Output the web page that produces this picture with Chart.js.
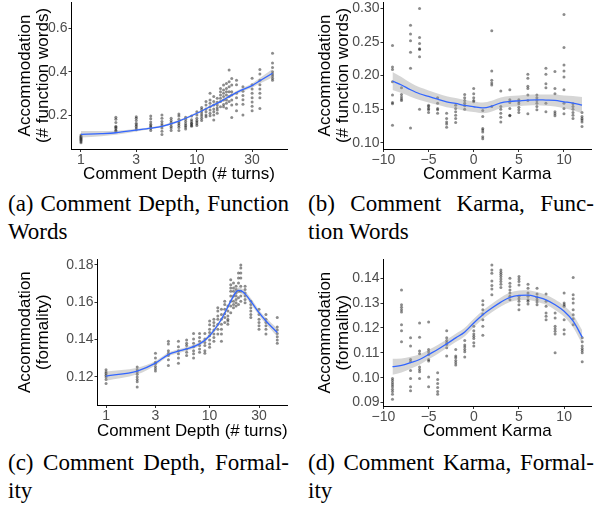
<!DOCTYPE html>
<html><head><meta charset="utf-8">
<script src="https://cdn.jsdelivr.net/npm/chart.js@4/dist/chart.umd.min.js"></script>
<style>
html,body{margin:0;padding:0;background:#fff;}
body{width:606px;height:510px;position:relative;overflow:hidden;}
.panel{position:absolute;}
.cap{position:absolute;font-family:"Liberation Serif","Times New Roman",serif;font-size:23px;line-height:28px;color:#000;}
.cap .l1{text-align:justify;text-align-last:justify;}
</style>
</head><body>
<canvas id="ca" class="panel" width="300" height="185" style="left:0;top:0;width:300px;height:185px"></canvas>
<canvas id="cb" class="panel" width="306" height="185" style="left:300px;top:0;width:306px;height:185px"></canvas>
<canvas id="cc" class="panel" width="300" height="192" style="left:0;top:250px;width:300px;height:192px"></canvas>
<canvas id="cd" class="panel" width="306" height="192" style="left:300px;top:250px;width:306px;height:192px"></canvas>
<div class="cap" style="left:8px;top:190px;width:281px"><div class="l1">(a) Comment Depth, Function</div><div>Words</div></div>
<div class="cap" style="left:308px;top:190px;width:286px"><div class="l1">(b) Comment Karma, Func-</div><div>tion Words</div></div>
<div class="cap" style="left:8px;top:449px;width:281px"><div class="l1">(c) Comment Depth, Formal-</div><div>ity</div></div>
<div class="cap" style="left:308px;top:449px;width:286px"><div class="l1">(d) Comment Karma, Formal-</div><div>ity</div></div>
<script>
// ---------- categories ----------
const depthX = [1,2,3,4,5,6,7,8,9,10,11,12,13,14,15,16,17,18,19,20,22,25,30,35,45];
const karmaX = [-9,-8,-7,-6,-5,-4,-3,-2,-1,0,1,2,3,4,5,6,7,8,9,10,11,12];

// ---------- tick labels ----------
const depthTicks = [1,3,10,30];
const depthTickLabels = ['1','3','10','30'];
const karmaTicks = [-10,-5,0,5,10];
const karmaTickLabels = ['\u221210','\u22125','0','5','10'];
const yTicksA = [0.2,0.4,0.6];
const yLabelsA = ['0.2','0.4','0.6'];
const yTicksB = [0.10,0.15,0.20,0.25,0.30];
const yLabelsB = ['0.10','0.15','0.20','0.25','0.30'];
const yTicksC = [0.12,0.14,0.16,0.18];
const yLabelsC = ['0.12','0.14','0.16','0.18'];
const yTicksD = [0.09,0.10,0.11,0.12,0.13,0.14];
const yLabelsD = ['0.09','0.10','0.11','0.12','0.13','0.14'];

// ---------- (a) function words by depth: points per depth ----------
const funcByDepth = [
  [0.108,0.102,0.097,0.093,0.088,0.083,0.078,0.072],
  [0.19,0.18,0.165,0.148,0.143,0.138,0.13,0.125],
  [0.192,0.185,0.175,0.162,0.155,0.148,0.14,0.132],
  [0.195,0.183,0.168,0.157,0.15,0.145,0.138,0.128],
  [0.2,0.185,0.17,0.158,0.15,0.14,0.125,0.11],
  [0.185,0.175,0.165,0.158,0.148,0.14,0.128],
  [0.205,0.195,0.18,0.168,0.16,0.152,0.142,0.128],
  [0.19,0.18,0.17,0.16,0.152,0.145,0.135],
  [0.195,0.178,0.17,0.162,0.158,0.152,0.148],
  [0.215,0.2,0.185,0.175,0.168,0.16,0.152],
  [0.235,0.225,0.215,0.205,0.195,0.185,0.175],
  [0.262,0.246,0.228,0.215,0.2,0.192],
  [0.3,0.269,0.254,0.238,0.223,0.208,0.197],
  [0.285,0.262,0.246,0.228,0.215,0.2,0.177],
  [0.277,0.259,0.246,0.234,0.223,0.208],
  [0.323,0.308,0.292,0.277,0.262,0.238],
  [0.339,0.315,0.3,0.285,0.269,0.249,0.238],
  [0.346,0.323,0.308,0.292,0.269,0.254,0.231],
  [0.408,0.354,0.331,0.308,0.285,0.262],
  [0.369,0.339,0.308,0.292,0.269,0.246,0.188],
  [0.36,0.34,0.3,0.28,0.25,0.22],
  [0.33,0.31,0.29,0.27,0.25,0.2],
  [0.37,0.34,0.32,0.3,0.28,0.26,0.24,0.22],
  [0.41,0.39,0.36,0.34,0.32,0.3,0.28,0.23],
  [0.485,0.44,0.42,0.4,0.39,0.38,0.37,0.36]
];
const fitAX  = [1,1.5,2,3,4,5,7,10,13,16,20,25,30,35,45];
const fitAY  = [0.111,0.114,0.118,0.130,0.139,0.148,0.172,0.208,0.238,0.262,0.292,0.318,0.336,0.358,0.393];
const fitALo = [0.096,0.102,0.109,0.124,0.134,0.143,0.167,0.203,0.233,0.256,0.285,0.310,0.326,0.345,0.373];
const fitAHi = [0.126,0.126,0.127,0.136,0.144,0.153,0.177,0.213,0.243,0.268,0.299,0.326,0.346,0.371,0.413];

// ---------- (b) function words by karma ----------
const funcByKarma = [
  [0.245,0.213,0.209,0.191,0.171,0.16,0.158,0.126],
  [0.182,0.172,0.168,0.165,0.163],
  [0.275,0.262,0.252,0.235,0.211,0.122],
  [0.3,0.257,0.248,0.24,0.239,0.228,0.15],
  [0.156,0.154,0.151,0.149,0.145],
  [0.167,0.159,0.151,0.149,0.144],
  [0.144,0.136,0.131,0.128,0.123],
  [0.156,0.151,0.146,0.141,0.136,0.13],
  [0.172,0.167,0.163,0.159,0.155,0.15],
  [0.181,0.173,0.167,0.163,0.161],
  [0.148,0.139,0.121,0.119,0.116,0.109,0.106],
  [0.267,0.207,0.193,0.189,0.186,0.154],
  [0.177,0.154,0.15,0.144,0.138,0.131],
  [0.179,0.164,0.16,0.151,0.141,0.14],
  [0.164,0.161,0.158,0.153,0.149,0.145],
  [0.202,0.196,0.184,0.181,0.171,0.163,0.143],
  [0.171,0.167,0.163,0.159,0.154,0.149],
  [0.211,0.202,0.188,0.182,0.159,0.146],
  [0.206,0.181,0.173,0.146,0.143,0.14],
  [0.291,0.242,0.216,0.207,0.198,0.179,0.159,0.151,0.143],
  [0.158,0.154,0.15,0.145,0.141,0.136],
  [0.145,0.139,0.136,0.134,0.131,0.124]
];
const fitBY  = [0.192,0.186,0.179,0.173,0.169,0.165,0.161,0.1585,0.1556,0.1536,0.152,0.1546,0.1595,0.1615,0.1625,0.1635,0.164,0.1635,0.163,0.161,0.159,0.156];
const fitBLo = [0.1784,0.174,0.1685,0.1635,0.160,0.1565,0.1528,0.1505,0.1476,0.1456,0.144,0.1466,0.1515,0.1535,0.1545,0.1555,0.156,0.155,0.154,0.1515,0.1485,0.144];
const fitBHi = [0.2056,0.198,0.1895,0.1825,0.178,0.1735,0.1692,0.1665,0.1636,0.1616,0.160,0.1626,0.1675,0.1695,0.1705,0.1715,0.172,0.172,0.172,0.1705,0.1695,0.168];

// ---------- (c) formality by depth ----------
const formByDepth = [
  [0.1239,0.1226,0.1218,0.1209,0.12,0.1186,0.1165],
  [0.1253,0.1239,0.1226,0.1214,0.12,0.1186,0.1174,0.1147],
  [0.1327,0.1302,0.1279,0.1271,0.1256,0.1244,0.1232],
  [0.1391,0.1377,0.1341,0.1327,0.1315,0.1292,0.1262],
  [0.1391,0.1362,0.1341,0.1324,0.1302,0.1274],
  [0.1398,0.138,0.1368,0.135,0.1332,0.1315],
  [0.1433,0.1403,0.138,0.1362,0.1341,0.1324,0.1302],
  [0.1433,0.1412,0.1391,0.1368,0.135,0.1332],
  [0.1433,0.1403,0.1385,0.1368,0.1341,0.1327],
  [0.15,0.1479,0.1456,0.1438,0.1421,0.1398,0.1377,0.1359],
  [0.1509,0.1491,0.1474,0.1451,0.143,0.1412,0.1391],
  [0.1571,0.1553,0.1527,0.1509,0.1482,0.1456,0.143],
  [0.1562,0.1535,0.1509,0.1482,0.1456,0.143,0.1391],
  [0.1606,0.1588,0.1562,0.1539,0.1518,0.1491],
  [0.158,0.1553,0.1527,0.1509,0.15,0.1482],
  [0.1721,0.1694,0.1677,0.1659,0.1633,0.1606,0.158,0.1544],
  [0.1703,0.1677,0.1659,0.1633,0.1606,0.1588,0.1571],
  [0.1686,0.1668,0.165,0.1633,0.1615,0.1597,0.158],
  [0.1756,0.173,0.1703,0.1659,0.1624,0.1588],
  [0.18,0.1783,0.1756,0.173,0.1686,0.1659,0.1633,0.1606],
  [0.1686,0.1668,0.165,0.1633,0.1615,0.1597],
  [0.1606,0.1588,0.1571,0.1553,0.1535,0.1518],
  [0.1562,0.1535,0.1509,0.1491,0.1474,0.1456],
  [0.1535,0.1509,0.1491,0.1474,0.1456,0.143],
  [0.1518,0.1468,0.1451,0.1433,0.1415,0.1398,0.138]
];
const fitCX  = [1,2,3,4,5,6,8,10,13,16,18,19,20,22,25,30,35,45];
const fitCY  = [0.1205,0.1232,0.1274,0.132,0.1338,0.135,0.1377,0.1421,0.1509,0.1606,0.1655,0.1664,0.1662,0.1645,0.1606,0.1544,0.150,0.1438];
const fitCLo = [0.118,0.1214,0.1262,0.131,0.1328,0.134,0.1367,0.1411,0.1498,0.1593,0.164,0.1649,0.1647,0.163,0.1591,0.1529,0.1483,0.1416];
const fitCHi = [0.123,0.125,0.1286,0.133,0.1348,0.136,0.1387,0.1431,0.152,0.1619,0.167,0.1679,0.1677,0.166,0.1621,0.1559,0.1517,0.146];

// ---------- (d) formality by karma ----------
const formByKarma = [
  [0.0997,0.0989,0.098,0.0971,0.0963,0.0953,0.0944,0.0933,0.0913],
  [0.1353,0.1293,0.1283,0.1273,0.1264,0.1213,0.1189,0.1144],
  [0.116,0.1127,0.1073,0.1064,0.1029,0.0997,0.0963,0.0947],
  [0.122,0.1163,0.1107,0.1096,0.1043,0.1033,0.1024,0.0997],
  [0.1224,0.1113,0.1104,0.1093,0.1073,0.1067,0.1003,0.0963],
  [0.102,0.0993,0.0976,0.096,0.0944,0.0933],
  [0.1189,0.116,0.1149,0.114,0.1133,0.112,0.1087],
  [0.1113,0.1087,0.108,0.1069,0.106,0.1051],
  [0.1149,0.1131,0.1123,0.1113,0.1104,0.1083],
  [0.1207,0.1189,0.1176,0.1167,0.1157,0.114,0.1127],
  [0.1309,0.1293,0.1273,0.1256,0.1233,0.1207,0.1171],
  [0.1453,0.1433,0.142,0.1389,0.1371,0.1357,0.1333],
  [0.1433,0.1424,0.1416,0.1407,0.1397,0.1387,0.1376,0.1363],
  [0.14,0.138,0.1367,0.1353,0.134,0.1327,0.1313],
  [0.1407,0.1397,0.1387,0.1373,0.1327,0.1317,0.1307,0.1293,0.1273],
  [0.1376,0.136,0.134,0.1327,0.1313,0.1307,0.1296],
  [0.136,0.1336,0.1323,0.1313,0.1304,0.1293],
  [0.1336,0.1307,0.1287,0.126,0.1247,0.1233],
  [0.126,0.124,0.1207,0.1197,0.1187,0.1176,0.11],
  [0.134,0.13,0.1293,0.1287,0.1233,0.1193,0.1176],
  [0.1403,0.1333,0.1317,0.13,0.1273,0.1253,0.1237,0.1213],
  [0.116,0.1144,0.1127,0.1117,0.1109,0.11,0.1064]
];
const fitDY  = [0.1044,0.1049,0.106,0.1073,0.1093,0.1113,0.1136,0.116,0.1184,0.122,0.1253,0.128,0.1304,0.1323,0.1331,0.1332,0.1324,0.1313,0.1293,0.1267,0.1227,0.1163];
const fitDLo = [0.1012,0.1021,0.1036,0.1052,0.1074,0.1095,0.1119,0.1143,0.1167,0.1203,0.1236,0.1263,0.1286,0.1304,0.1311,0.1312,0.1304,0.1293,0.1272,0.1245,0.1202,0.1135];
const fitDHi = [0.1076,0.1077,0.1084,0.1094,0.1112,0.1131,0.1153,0.1177,0.1201,0.1237,0.127,0.1297,0.1322,0.1342,0.1351,0.1352,0.1344,0.1333,0.1314,0.1289,0.1252,0.1191];

Chart.defaults.font.family = "'Liberation Sans', Arial, sans-serif";
Chart.defaults.animation = false;

const TICK_FONT = {family:"'Liberation Sans', Arial, sans-serif", size:14, lineHeight:1.15};
const TITLE_FONT = {family:"'Liberation Sans', Arial, sans-serif", size:17, lineHeight:1.08};

function buildPanel(o) {
  const pts = [];
  o.xs.forEach((x, i) => o.cols[i].forEach(y => pts.push({x: x, y: y})));
  const toPts = arr => o.fitX.map((x, i) => ({x: x, y: arr[i]}));
  new Chart(document.getElementById(o.id), {
    type: 'scatter',
    data: {datasets: [
      {data: toPts(o.fitY), showLine: true, borderColor: '#3366FF', borderWidth: 1.3, pointRadius: 0, cubicInterpolationMode: 'monotone', fill: false, order: 0},
      {data: toPts(o.fitLo), showLine: true, borderColor: 'rgba(0,0,0,0)', borderWidth: 0, pointRadius: 0, cubicInterpolationMode: 'monotone', fill: false, order: 2},
      {data: toPts(o.fitHi), showLine: true, borderColor: 'rgba(0,0,0,0)', borderWidth: 0, pointRadius: 0, cubicInterpolationMode: 'monotone', fill: 1, backgroundColor: 'rgba(153,153,153,0.4)', order: 1},
      {data: pts, pointRadius: 1.5, pointBackgroundColor: 'rgba(0,0,0,0.45)', pointBorderWidth: 0, pointHoverRadius: 1.5, order: 3}
    ]},
    options: {
      responsive: false,
      devicePixelRatio: 1,
      animation: false,
      events: [],
      layout: {padding: {left: 0, right: o.padRight, top: o.padTop, bottom: 0}},
      plugins: {legend: {display: false}, tooltip: {enabled: false}},
      scales: {
        x: {
          type: o.xType, position: 'bottom', min: o.xMin, max: o.xMax,
          afterBuildTicks: s => { s.ticks = o.xTicks.map(v => ({value: v})); },
          afterFit: s => { s.height = o.xHeight; s.paddingLeft = 0; s.paddingRight = 0; },
          ticks: {callback: (v, i) => o.xLabels[i], color: '#4D4D4D', font: TICK_FONT, padding: 0, maxRotation: 0, autoSkip: false},
          grid: {display: true, drawOnChartArea: false, drawTicks: true, tickLength: 3, tickColor: '#333333', tickWidth: 1},
          border: {display: true, color: '#000000', width: 1},
          title: {display: true, text: o.xTitle, color: '#000000', font: TITLE_FONT, padding: {top: 0, bottom: 2}}
        },
        y: {
          type: 'linear', position: 'left', min: o.yMin, max: o.yMax,
          afterBuildTicks: s => { s.ticks = o.yTicks.map(v => ({value: v})); },
          afterFit: s => { s.width = o.yWidth; s.paddingTop = 0; s.paddingBottom = 0; },
          ticks: {callback: (v, i) => o.yLabels[i], color: '#4D4D4D', font: TICK_FONT, padding: 1, autoSkip: false},
          grid: {display: true, drawOnChartArea: false, drawTicks: true, tickLength: 2.5, tickColor: '#333333', tickWidth: 1},
          border: {display: true, color: '#000000', width: 1},
          title: {display: true, text: o.yTitle, color: '#000000', font: TITLE_FONT, padding: {top: 16, bottom: 0}}
        }
      }
    }
  });
}

buildPanel({id: 'ca', xs: depthX, cols: funcByDepth, fitX: fitAX, fitY: fitAY, fitLo: fitALo, fitHi: fitAHi,
  xType: 'logarithmic', xMin: 0.82, xMax: 60, xTicks: depthTicks, xLabels: depthTickLabels,
  yMin: 0.043, yMax: 0.722, yTicks: yTicksA, yLabels: yLabelsA,
  xTitle: 'Comment Depth (# turns)', yTitle: ['Accommodation', '(# function words)'],
  padRight: 13, padTop: 2, yWidth: 71, xHeight: 36});

buildPanel({id: 'cb', xs: karmaX, cols: funcByKarma, fitX: karmaX, fitY: fitBY, fitLo: fitBLo, fitHi: fitBHi,
  xType: 'linear', xMin: -10.05, xMax: 13.05, xTicks: karmaTicks, xLabels: karmaTickLabels,
  yMin: 0.0906, yMax: 0.3098, yTicks: yTicksB, yLabels: yLabelsB,
  xTitle: 'Comment Karma', yTitle: ['Accommodation', '(# function words)'],
  padRight: 14.5, padTop: 2, yWidth: 83, xHeight: 36});

buildPanel({id: 'cc', xs: depthX, cols: formByDepth, fitX: fitCX, fitY: fitCY, fitLo: fitCLo, fitHi: fitCHi,
  xType: 'logarithmic', xMin: 0.818, xMax: 56.5, xTicks: depthTicks, xLabels: depthTickLabels,
  yMin: 0.105, yMax: 0.183, yTicks: yTicksC, yLabels: yLabelsC,
  xTitle: 'Comment Depth (# turns)', yTitle: ['Accommodation', '(formality)'],
  padRight: 12.5, padTop: 9.3, yWidth: 97, xHeight: 37});

buildPanel({id: 'cd', xs: karmaX, cols: formByKarma, fitX: karmaX, fitY: fitDY, fitLo: fitDLo, fitHi: fitDHi,
  xType: 'linear', xMin: -10.05, xMax: 13.05, xTicks: karmaTicks, xLabels: karmaTickLabels,
  yMin: 0.0886, yMax: 0.1476, yTicks: yTicksD, yLabels: yLabelsD,
  xTitle: 'Comment Karma', yTitle: ['Accommodation', '(formality)'],
  padRight: 14.3, padTop: 9.3, yWidth: 83, xHeight: 36});
</script>
</body></html>
